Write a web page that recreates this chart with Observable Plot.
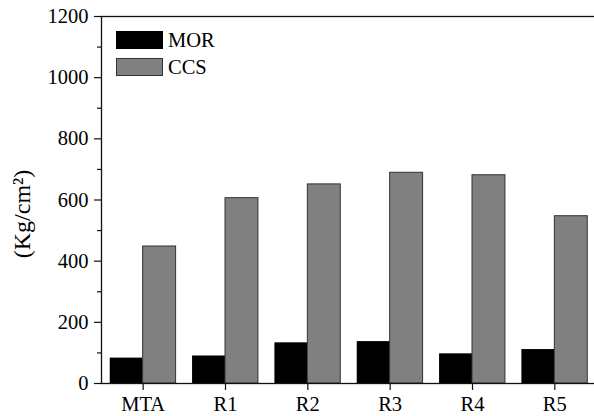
<!DOCTYPE html>
<html>
<head>
<meta charset="utf-8">
<script src="https://cdn.jsdelivr.net/npm/d3@7"></script>
<script src="https://cdn.jsdelivr.net/npm/@observablehq/plot@0.6"></script>
<style>
  html, body { margin: 0; padding: 0; background: #fff; overflow: hidden; }
  #chart { position: relative; width: 594px; height: 416px; overflow: hidden; }
  .legend { position: absolute; left: 116px; top: 31px; font-family: "Liberation Serif", "Times New Roman", serif; font-size: 20.5px; color: #000; }
  .legend .row { display: flex; align-items: center; height: 18px; margin-bottom: 9px; }
  .legend .sw { width: 47px; height: 18px; box-sizing: border-box; margin-right: 5px; }
</style>
</head>
<body>
<div id="chart"></div>
<script>
// Strength of each formulation (kg/cm²)
const categories = ["MTA", "R1", "R2", "R3", "R4", "R5"];
const series = ["MOR", "CCS"];
const morValues = [83, 90, 133, 137, 97, 111];
const ccsValues = [448, 606, 651, 689, 681, 547];
const yTicks = [0, 200, 400, 600, 800, 1000, 1200];
const yMinorTicks = [100, 300, 500, 700, 900, 1100];
const seriesFill = ["#000000", "#808080"];

const rows = [];
categories.forEach((c, i) => {
  rows.push({category: c, series: "MOR", value: morValues[i]});
  rows.push({category: c, series: "CCS", value: ccsValues[i]});
});

// Band layout shared by the x scale and the half-band insets
const xRange = [101, 596];
const padInner = 0.2, padOuter = 0.106;
const band = d3.scaleBand(categories, xRange).paddingInner(padInner).paddingOuter(padOuter);
const half = band.bandwidth() / 2;

const chart = Plot.plot({
  width: 596,
  height: 416,
  marginLeft: 101,
  marginRight: 0,
  marginTop: 16,
  marginBottom: 33,
  style: {fontFamily: "'Liberation Serif', 'Times New Roman', serif", fontSize: "20.5px", color: "#000", background: "#fff", maxWidth: "none"},
  x: {domain: categories, range: xRange, paddingInner: padInner, paddingOuter: padOuter, round: false},
  y: {domain: [0, 1200]},
  marks: [
    Plot.barY(rows.filter(d => d.series === "MOR"), {x: "category", y: "value", fill: seriesFill[0], insetLeft: 0, insetRight: half}),
    Plot.barY(rows.filter(d => d.series === "CCS"), {x: "category", y: "value", fill: seriesFill[1], stroke: "#333", strokeWidth: 1, insetLeft: half, insetRight: 0}),
    Plot.axisY({ticks: yTicks, tickFormat: d => String(d), tickSize: 7, tickPadding: 6, stroke: "#111", strokeWidth: 1.2,
      label: "(Kg/cm²)", labelAnchor: "center", labelOffset: 89, labelArrow: "none"}),
    Plot.axisY({ticks: yMinorTicks, tickSize: 4, stroke: "#111", strokeWidth: 1.2, text: null, label: null}),
    Plot.axisX({tickSize: 7, tickPadding: 6, stroke: "#111", strokeWidth: 1.2, label: null}),
    Plot.frame({stroke: "#111", strokeWidth: 1.3})
  ]
});

// Larger axis title, set a little below the plot's vertical centre
d3.select(chart).selectAll('g[aria-label="y-axis label"]').each(function () {
  const g = d3.select(this);
  g.attr("font-size", "24px");
  const t = g.attr("transform") || "";
  g.attr("transform", (t + " translate(0,14)").trim());
});

const holder = document.getElementById("chart");
holder.appendChild(chart);

// Legend drawn inside the plot area, top left
const legend = document.createElement("div");
legend.className = "legend";
series.forEach((s, i) => {
  const row = document.createElement("div");
  row.className = "row";
  const sw = document.createElement("div");
  sw.className = "sw";
  sw.style.background = seriesFill[i];
  sw.style.border = i === 0 ? "none" : "1px solid #333";
  const label = document.createElement("span");
  label.textContent = s;
  row.appendChild(sw);
  row.appendChild(label);
  legend.appendChild(row);
});
holder.appendChild(legend);
</script>
</body>
</html>
